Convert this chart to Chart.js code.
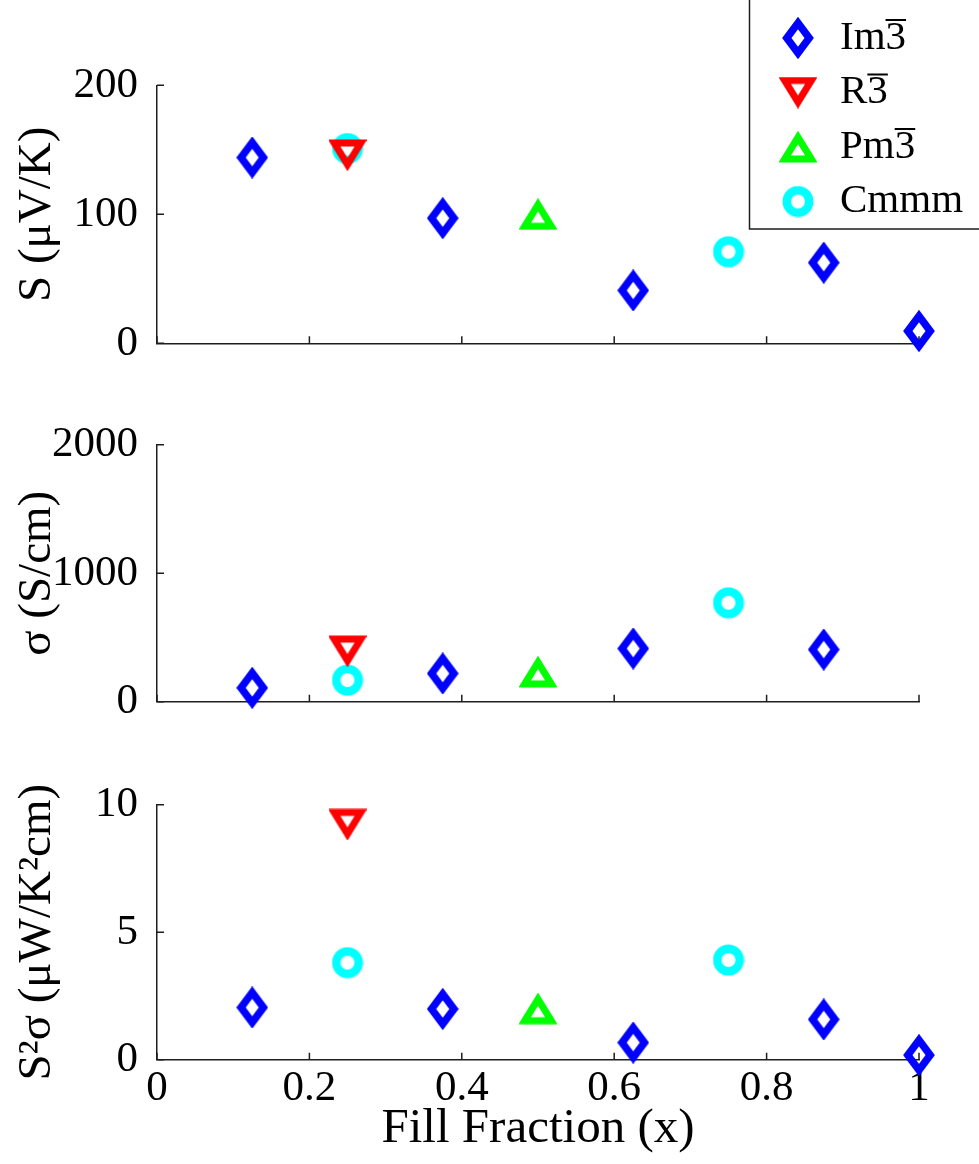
<!DOCTYPE html>
<html>
<head>
<meta charset="utf-8">
<script src="https://cdn.jsdelivr.net/npm/chart.js@4.4.0/dist/chart.umd.min.js"></script>
<style>
  html, body { margin: 0; padding: 0; background: #fff; }
  #wrap { position: relative; width: 979px; height: 1164px; overflow: hidden; }
  canvas { position: absolute; left: 0; }
</style>
</head>
<body>
<div id="wrap">
  <canvas id="seebeck"></canvas>
  <canvas id="sigma"></canvas>
  <canvas id="power"></canvas>
</div>
<script>
// fill fraction of each structure
const xIm = [0.125, 0.375, 0.625, 0.875, 1.0];
const xR = [0.25];
const xPm = [0.5];
const xC = [0.25, 0.75];

// Seebeck coefficient S (uV/K)
const sIm = [144, 97, 41, 62.5, 9.5];
const sR = [146];
const sPm = [100];
const sC = [151, 71];

// conductivity sigma (S/cm), no value for x = 1
const sigIm = [108, 220, 414, 406, null];
const sigR = [394];
const sigPm = [232];
const sigC = [168, 770];

// power factor S^2 sigma (uW/K^2 cm)
const pfIm = [2.05, 1.99, 0.67, 1.58, 0.18];
const pfR = [9.23];
const pfPm = [2.0];
const pfC = [3.81, 3.91];

// ticks
const xTicks = [0, 0.2, 0.4, 0.6, 0.8, 1];
const sTicks = [0, 100, 200];
const sigTicks = [0, 1000, 2000];
const pfTicks = [0, 5, 10];

// legend names (the 3 gets an overbar)
const seriesNames = ['Im', 'R', 'Pm', 'Cmmm'];
const barred = ['3', '3', '3', ''];

const axisColor = '#1e1e1e';
const serif = '"Liberation Serif", "Times New Roman", serif';

// draws a MATLAB-like open marker and crops it to its outline
function makeMarker(kind, color) {
  const big = document.createElement('canvas');
  big.width = 80; big.height = 80;
  const g = big.getContext('2d');
  g.translate(40, 40);
  g.strokeStyle = color;
  g.lineJoin = 'miter';
  g.miterLimit = 10;
  g.beginPath();
  if (kind === 'diamond') {
    g.lineWidth = 7.5;
    g.moveTo(0, -15); g.lineTo(11.2, 0); g.lineTo(0, 15); g.lineTo(-11.2, 0);
    g.closePath();
  } else if (kind === 'down') {
    g.lineWidth = 7;
    g.moveTo(-13.3, -9); g.lineTo(13.3, -9); g.lineTo(0, 12.5);
    g.closePath();
  } else if (kind === 'up') {
    g.lineWidth = 7;
    g.moveTo(-13.3, 9); g.lineTo(13.3, 9); g.lineTo(0, -12.5);
    g.closePath();
  } else {
    g.lineWidth = 8.5;
    g.arc(0, 0, 11.2, 0, Math.PI * 2);
  }
  g.stroke();

  // find the bounding box so the marker is centred on its point
  const d = g.getImageData(0, 0, 80, 80).data;
  let x0 = 80, y0 = 80, x1 = 0, y1 = 0;
  for (let j = 0; j < 80; j++) {
    for (let i = 0; i < 80; i++) {
      if (d[(j * 80 + i) * 4 + 3] > 60) {
        if (i < x0) x0 = i;
        if (i > x1) x1 = i;
        if (j < y0) y0 = j;
        if (j > y1) y1 = j;
      }
    }
  }
  const out = document.createElement('canvas');
  out.width = x1 - x0 + 1;
  out.height = y1 - y0 + 1;
  out.getContext('2d').drawImage(big, x0, y0, out.width, out.height, 0, 0, out.width, out.height);
  return out;
}

const markers = [
  makeMarker('diamond', '#0000ff'),
  makeMarker('down', '#ff0000'),
  makeMarker('up', '#00ff00'),
  makeMarker('circle', '#00ffff')
];

function points(xs, ys) {
  return xs.map((x, i) => ({ x: x, y: ys[i] })).filter(p => p.y !== null);
}

// tick marks drawn inside the axes like in MATLAB
const inwardTicks = {
  id: 'inwardTicks',
  beforeDatasetsDraw(chart) {
    const { ctx, chartArea, scales } = chart;
    ctx.save();
    ctx.strokeStyle = axisColor;
    ctx.lineWidth = 1.5;
    ctx.beginPath();
    scales.x.ticks.forEach(t => {
      const px = scales.x.getPixelForValue(t.value);
      ctx.moveTo(px, chartArea.bottom);
      ctx.lineTo(px, chartArea.bottom - 7);
    });
    scales.y.ticks.forEach(t => {
      const py = scales.y.getPixelForValue(t.value);
      ctx.moveTo(chartArea.left, py);
      ctx.lineTo(chartArea.left + 7, py);
    });
    ctx.stroke();
    ctx.restore();
  }
};

// boxed legend in the top right corner
const legendBox = {
  id: 'legendBox',
  afterDraw(chart) {
    const ctx = chart.ctx;
    ctx.save();
    ctx.fillStyle = '#fff';
    ctx.fillRect(749, -5, 260, 234);
    ctx.strokeStyle = axisColor;
    ctx.lineWidth = 1.5;
    ctx.strokeRect(749.5, -5, 260, 234);

    ctx.font = '41px ' + serif;
    ctx.fillStyle = '#000';
    ctx.textBaseline = 'middle';
    chart.data.datasets.forEach((ds, i) => {
      const rowY = 38 + i * 54.5;
      const m = ds.pointStyle;
      ctx.drawImage(m, 798 - m.width / 2, rowY - m.height / 2);
      const txt = seriesNames[i] + barred[i];
      ctx.fillText(txt, 840, rowY);
      if (barred[i]) {
        const w0 = ctx.measureText(seriesNames[i]).width;
        const w3 = ctx.measureText(barred[i]).width;
        ctx.fillRect(840 + w0, rowY - 19, w3, 2);
      }
    });
    ctx.restore();
  }
};

// plain numbers, no thousands separator
const plainTick = v => String(v);

// one panel of the stacked figure
function panel(id, top, height, plotTop, plotBottom, yTicks, yTitle, ys, isLast, extra) {
  const cv = document.getElementById(id);
  cv.width = 979;
  cv.height = height;
  cv.style.top = top + 'px';

  const xs = [xIm, xR, xPm, xC];
  const datasets = ys.map((y, i) => ({
    label: seriesNames[i] + barred[i],
    data: points(xs[i], y),
    pointStyle: markers[i],
    pointRadius: 16,
    showLine: false,
    clip: false
  }));

  return new Chart(cv, {
    type: 'scatter',
    data: { datasets: datasets },
    options: {
      responsive: false,
      animation: false,
      layout: { padding: { top: plotTop - top, right: 60, left: 0, bottom: 0 } },
      plugins: { legend: { display: false }, tooltip: { enabled: false } },
      scales: {
        x: {
          type: 'linear',
          min: 0,
          max: 1,
          afterBuildTicks: axis => { axis.ticks = xTicks.map(v => ({ value: v })); },
          afterFit: axis => { axis.height = top + height - plotBottom; },
          grid: { display: false, drawTicks: false },
          border: { display: true, color: axisColor, width: 1.5 },
          ticks: { display: isLast, color: '#000', padding: 3, callback: plainTick, font: { family: serif, size: 43 } },
          title: {
            display: isLast,
            text: 'Fill Fraction (x)',
            color: '#000',
            font: { family: serif, size: 49 },
            padding: { top: 0, bottom: 5 }
          }
        },
        y: {
          type: 'linear',
          min: yTicks[0],
          max: yTicks[yTicks.length - 1],
          afterBuildTicks: axis => { axis.ticks = yTicks.map(v => ({ value: v })); },
          afterFit: axis => { axis.width = 157; },
          grid: { display: false, drawTicks: false },
          border: { display: true, color: axisColor, width: 1.5 },
          ticks: { color: '#000', padding: 19, callback: plainTick, font: { family: serif, size: 43 } },
          title: {
            display: true,
            text: yTitle,
            color: '#000',
            font: { family: serif, size: 47 },
            padding: { top: 9, bottom: 0 }
          }
        }
      }
    },
    plugins: [inwardTicks].concat(extra || [])
  });
}

panel('seebeck', 0, 400, 85.3, 343.3, sTicks, 'S (μV/K)', [sIm, sR, sPm, sC], false, [legendBox]);
panel('sigma', 400, 360, 443.7, 701.7, sigTicks, 'σ (S/cm)', [sigIm, sigR, sigPm, sigC], false);
panel('power', 760, 404, 801.7, 1059.7, pfTicks, 'S²σ (μW/K²cm)', [pfIm, pfR, pfPm, pfC], true);
</script>
</body>
</html>
